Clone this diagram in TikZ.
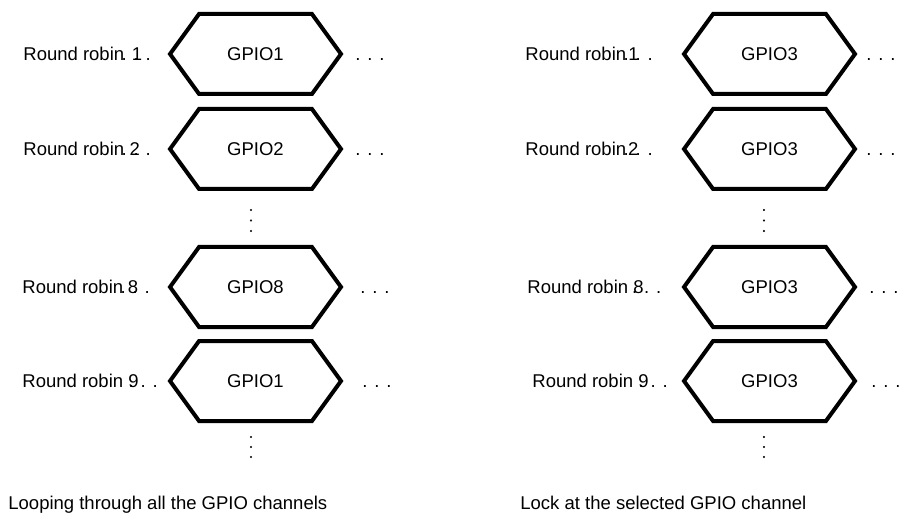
\documentclass[tikz,border=0pt]{standalone}
\usepackage{fontspec}
\setmainfont{Liberation Sans}
\usetikzlibrary{shapes.symbols}

% label text: number and dots set over each other
\newcommand{\rrlabel}[3]{Round robin\rlap{\kern#2em #1}\rlap{\kern#3em . . .}}

\tikzset{
  gpio/.style={draw, line width=2pt, shape=signal, signal to=east and west,
    signal pointer angle=108, minimum width=85.5pt, minimum height=40pt, inner sep=0pt},
  rr/.style={anchor=base west, inner sep=0pt},
}

\begin{document}
\begin{tikzpicture}[x=0.5pt,y=-0.5pt,font=\fontsize{9.25}{11}\selectfont]
\path[use as bounding box] (0,0) rectangle (899,513);

% left: looping
\node[gpio] (l1) at (255.5,54) {GPIO1};
\node[gpio] (l2) at (255.5,149) {GPIO2};
\node[gpio] (l8) at (255.5,287) {GPIO8};
\node[gpio] (l9) at (255.5,381) {GPIO1};

\node[rr] (rrl1) at (23,60.5) {\rrlabel{1}{0.42}{-0.14}};
\node[rr] (rrl2) at (23,155.5) {\rrlabel{2}{0.30}{-0.14}};
\node[rr] (rrl8) at (22,293.5) {\rrlabel{8}{0.25}{-0.14}};
\node[rr] (rrl9) at (22,387.5) {\rrlabel{9}{0.278}{0.30}};

\node[rr] (dl1) at (355,60.5) {. . .};
\node[rr] (dl2) at (355,155.5) {. . .};
\node[rr] (dl8) at (360,293.5) {. . .};
\node[rr] (dl9) at (362,387.5) {. . .};

% right: locked
\node[gpio] (r1) at (769.5,54) {GPIO3};
\node[gpio] (r2) at (769.5,149) {GPIO3};
\node[gpio] (r8) at (769.5,287) {GPIO3};
\node[gpio] (r9) at (769.5,381) {GPIO3};

\node[rr] (rrr1) at (525,60.5) {\rrlabel{1}{0.12}{-0.14}};
\node[rr] (rrr2) at (525,155.5) {\rrlabel{2}{0.10}{-0.14}};
\node[rr] (rrr8) at (527,293.5) {\rrlabel{8}{0.278}{0.22}};
\node[rr] (rrr9) at (532,387.5) {\rrlabel{9}{0.278}{0.30}};

\node[rr] (dr1) at (866,60.5) {. . .};
\node[rr] (dr2) at (866,155.5) {. . .};
\node[rr] (dr8) at (869,293.5) {. . .};
\node[rr] (dr9) at (871,387.5) {. . .};

\foreach \x/\y in {251/210, 251/220.5, 251/231, 251/437, 251/447, 251/457,
                   764/210, 764/220.5, 764/231, 764/437, 764/447, 764/457}
	\filldraw[fill=black, draw=black, line width=0.1pt] (\x,\y) circle [radius=0.45pt];

\node[rr] (capl) at (8,509) {Looping through all the GPIO channels};
\node[rr] (capr) at (520,509) {Lock at the selected GPIO channel};

\end{tikzpicture}
\end{document}
